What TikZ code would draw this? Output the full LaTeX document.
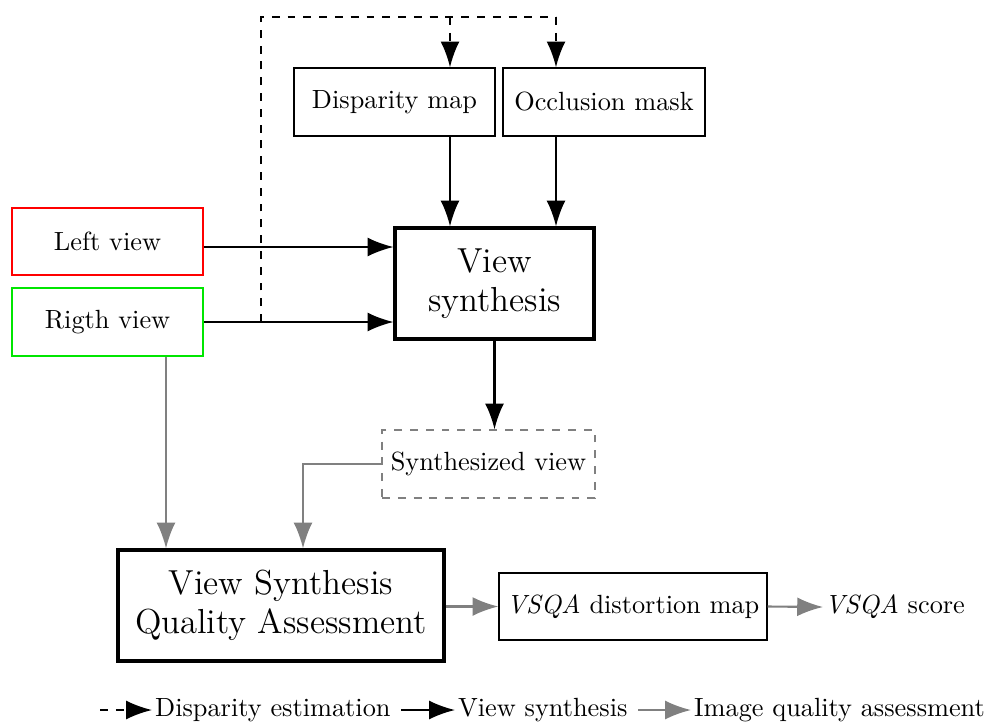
\documentclass[tikz,border=0pt]{standalone}
\usetikzlibrary{arrows.meta,calc}
\definecolor{pgreen}{RGB}{0,230,0}
\begin{document}
\begin{tikzpicture}[x=0.38pt,y=-0.38pt,
  box/.style={draw,line width=0.55pt,inner sep=0pt,align=center},
  bigbox/.style={draw,line width=1.2pt,inner sep=0pt,align=center,font=\fontsize{13.2}{15}\selectfont},
  arr/.style={line width=0.8pt,-{Latex[length=9.8pt,width=7.2pt]}},
  garr/.style={arr,gray},
  darr/.style={arr,dashed}]
\useasboundingbox (0,0) rectangle (987,722);
% nodes
\node[box,minimum width=76.4pt,minimum height=25.8pt] (dm) at (394.5,102) {Disparity map};
\node[box,minimum width=76.8pt,minimum height=25.8pt] (om) at (604,102) {Occlusion mask};
\node[bigbox,minimum width=75.6pt,minimum height=42.2pt] (vs) at (494.5,283.5) {View\\synthesis};
\node[box,draw=red,minimum width=72.6pt,minimum height=25.5pt] (lv) at (107.5,241.5) {Left view};
\node[box,draw=pgreen,minimum width=72.6pt,minimum height=25.8pt] (rv) at (107.5,322) {Rigth view};
\node[box,draw=gray,dashed,minimum width=80.9pt,minimum height=25.8pt] (sv) at (488.5,464) {Synthesized view};
\node[bigbox,minimum width=123.9pt,minimum height=42.2pt] (vq) at (281,605.5) {View Synthesis\\Quality Assessment};
\node[box,minimum width=101.8pt,minimum height=25.5pt] (dmap) at (633,606.5) {\textit{VSQA} distortion map};
\node[inner sep=0.5pt,anchor=west] (score) at (823,607) {\textit{VSQA} score};
% coordinates
\coordinate (j1) at (261,322);
\coordinate (j2) at (261,17);
\coordinate (j3) at (450,17);
\coordinate (j4) at (556,17);
% dashed (disparity estimation)
\draw[line width=0.8pt,dashed] (j1) -- (j2) -- (j4);
\draw[darr] (j3) -- (dm.north -| j3);
\draw[darr] (j4) -- (om.north -| j4);
% view synthesis arrows
\draw[arr] (dm.south -| j3) -- (vs.north -| j3);
\draw[arr] (om.south -| j4) -- (vs.north -| j4);
\draw[arr] (lv.east |- 0,247) -- (vs.west |- 0,247);
\draw[arr] (rv.east) -- (vs.west |- rv.east);
\draw[arr] (vs.south) -- (sv.north -| vs.south);
% quality assessment arrows
\draw[garr] (sv.west) -| (vq.north -| 303,0);
\draw[garr] (rv.south -| 166,0) -- (vq.north -| 166,0);
\draw[garr] (vq.east |- dmap.west) -- (dmap.west);
\draw[garr] (dmap.east) -- (score.west);
% legend
\coordinate (l1a) at (100,710);
\node[inner sep=1pt,anchor=west] (l1) at (152,710) {Disparity estimation};
\coordinate (l2a) at (401,710);
\node[inner sep=1pt,anchor=west] (l2) at (455,710) {View synthesis};
\coordinate (l3a) at (638,710);
\node[inner sep=1pt,anchor=west] (l3) at (691,710) {Image quality assessment};
\draw[darr] (l1a) -- (l1.west);
\draw[arr] (l2a) -- (l2.west);
\draw[garr] (l3a) -- (l3.west);
\end{tikzpicture}
\end{document}
